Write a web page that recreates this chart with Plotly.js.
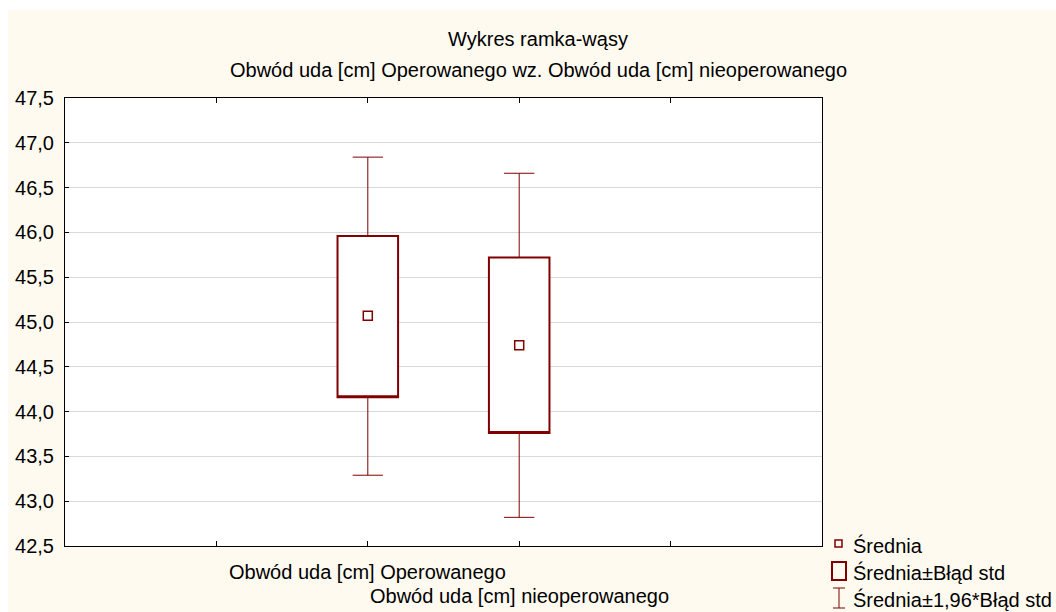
<!DOCTYPE html>
<html>
<head>
<meta charset="utf-8">
<script src="https://cdn.plot.ly/plotly-3.0.1.min.js"></script>
<style>
html,body{margin:0;padding:0;background:#ffffff;}
#chart{width:1056px;height:612px;}
</style>
</head>
<body>
<div id="chart"></div>
<script>
// ---- data ----
var categories = ['Obwód uda [cm] Operowanego', 'Obwód uda [cm] nieoperowanego'];
var positions = [2, 3];
var means = [45.07, 44.74];
var seLower = [44.16, 43.76];
var seUpper = [45.96, 45.72];
var ciLower = [43.29, 42.82];
var ciUpper = [46.84, 46.66];
var yTickVals = [42.5, 43.0, 43.5, 44.0, 44.5, 45.0, 45.5, 46.0, 46.5, 47.0, 47.5];
var legendLabels = ['Średnia', 'Średnia±Błąd std', 'Średnia±1,96*Błąd std'];
var titleLines = ['Wykres ramka-wąsy', 'Obwód uda [cm] Operowanego wz. Obwód uda [cm] nieoperowanego'];

// ---- styling ----
var RED = '#800000';
var CREAM = '#fefaf0';
var FONT = 'Liberation Sans, Arial, Helvetica, sans-serif';
var W = 1056, H = 612;
var M = {l: 65, r: 234, t: 98, b: 66};
var PW = W - M.l - M.r, PH = H - M.t - M.b;
function px(x) { return (x - M.l) / PW; }
function py(y) { return (H - M.b - y) / PH; }

var traces = [
  { // whiskers (thin)
    type: 'box', x: positions, q1: seLower, median: seLower, q3: seUpper,
    lowerfence: ciLower, upperfence: ciUpper,
    width: 0.4, whiskerwidth: 0.5,
    line: {color: RED, width: 1}, fillcolor: '#ffffff',
    boxpoints: false, hoverinfo: 'skip', showlegend: false
  },
  { // box (thick)
    type: 'box', x: positions, q1: seLower, median: seLower, q3: seUpper,
    lowerfence: seLower, upperfence: seUpper,
    width: 0.4, whiskerwidth: 0,
    line: {color: RED, width: 2}, fillcolor: '#ffffff',
    boxpoints: false, hoverinfo: 'skip', showlegend: false
  },
  { // means
    type: 'scatter', mode: 'markers', x: positions, y: means,
    marker: {symbol: 'square-open', size: 9, color: RED, line: {width: 1.5, color: RED}},
    hoverinfo: 'skip', showlegend: false
  }
];

var annotations = [
  {text: titleLines[1], xref: 'paper', yref: 'paper', x: px(538), y: py(70),
   xanchor: 'center', yanchor: 'middle', showarrow: false, font: {size: 20, color: '#000'}},
  {text: categories[0], xref: 'x', yref: 'paper', x: positions[0], y: py(572),
   xanchor: 'center', yanchor: 'middle', showarrow: false, font: {size: 20, color: '#000'}},
  {text: categories[1], xref: 'x', yref: 'paper', x: positions[1], y: py(596),
   xanchor: 'center', yanchor: 'middle', showarrow: false, font: {size: 20, color: '#000'}}
];
var legendY = [545, 572, 599];
legendLabels.forEach(function (t, i) {
  annotations.push({text: t, xref: 'paper', yref: 'paper', x: px(851), y: py(legendY[i]),
    xanchor: 'left', yanchor: 'middle', showarrow: false, font: {size: 20, color: '#000'}});
});

var shapes = [
  // cream background
  {type: 'rect', xref: 'paper', yref: 'paper', x0: px(8), x1: px(W + 2), y0: py(H + 2), y1: py(10),
   fillcolor: CREAM, line: {width: 0}, layer: 'below'},
  // white plot area
  {type: 'rect', xref: 'paper', yref: 'paper', x0: 0, x1: 1, y0: 0, y1: 1,
   fillcolor: '#ffffff', line: {width: 0}, layer: 'below'},
  // legend icon: mean
  {type: 'rect', xref: 'paper', yref: 'paper', x0: px(835), x1: px(842), y0: py(547), y1: py(540),
   fillcolor: 'rgba(0,0,0,0)', line: {color: RED, width: 1.5}},
  // legend icon: box
  {type: 'rect', xref: 'paper', yref: 'paper', x0: px(832), x1: px(846), y0: py(580), y1: py(562),
   fillcolor: 'rgba(0,0,0,0)', line: {color: RED, width: 2}},
  // legend icon: whisker
  {type: 'line', xref: 'paper', yref: 'paper', x0: px(839), x1: px(839), y0: py(608), y1: py(588),
   line: {color: RED, width: 1}},
  {type: 'line', xref: 'paper', yref: 'paper', x0: px(833), x1: px(845), y0: py(588), y1: py(588),
   line: {color: RED, width: 1}},
  {type: 'line', xref: 'paper', yref: 'paper', x0: px(833), x1: px(845), y0: py(608), y1: py(608),
   line: {color: RED, width: 1}}
];

var layout = {
  width: W, height: H,
  margin: M,
  paper_bgcolor: '#ffffff',
  plot_bgcolor: 'rgba(0,0,0,0)',
  separators: ', ',
  font: {family: FONT, size: 20, color: '#000'},
  showlegend: false,
  boxmode: 'overlay',
  title: {text: titleLines[0], x: 538 / W, xanchor: 'center', xref: 'container',
          y: 1 - 39 / H, yanchor: 'middle', yref: 'container', font: {size: 20, color: '#000'}},
  xaxis: {range: [0, 5], tickvals: [1, 2, 3, 4], ticktext: ['', '', '', ''], showticklabels: false,
          ticks: 'inside', ticklen: 5, tickcolor: '#000', showgrid: false, zeroline: false,
          showline: true, linecolor: '#000', linewidth: 1, mirror: 'ticks', fixedrange: true},
  yaxis: {range: [42.5, 47.5], tickvals: yTickVals, tickformat: '.1f',
          ticks: 'inside', ticklen: 4, tickcolor: '#000', showgrid: true, gridcolor: '#d9d9d9',
          gridwidth: 1, zeroline: false, showline: true, linecolor: '#000', linewidth: 1,
          mirror: true, ticklabelstandoff: 6, tickfont: {size: 20, color: '#000'}, fixedrange: true},
  annotations: annotations,
  shapes: shapes
};

Plotly.newPlot('chart', traces, layout, {displayModeBar: false, staticPlot: true});
</script>
</body>
</html>
